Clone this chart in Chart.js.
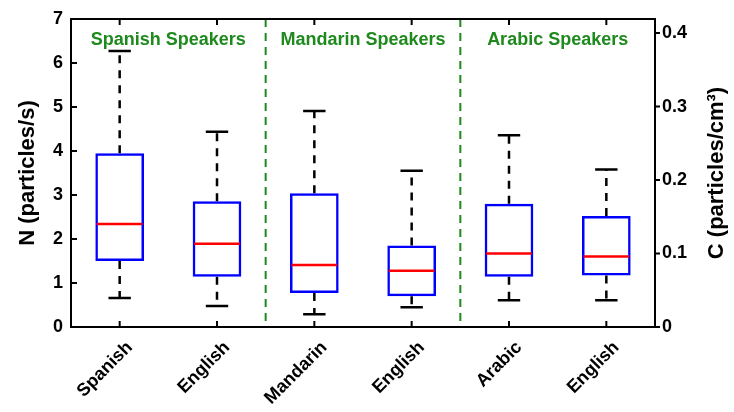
<!DOCTYPE html>
<html>
<head>
<meta charset="utf-8">
<script src="https://cdn.jsdelivr.net/npm/chart.js@4"></script>
<style>
  html, body { margin: 0; padding: 0; background: #fff; }
  #wrap { width: 734px; height: 412px; position: relative; }
</style>
</head>
<body>
<div id="wrap"><canvas id="chart"></canvas></div>
<script>
// box plot values, N (particles/s)
const categories = ["Spanish", "English", "Mandarin", "English", "Arabic", "English"];
const whiskerLow = [0.66, 0.48, 0.29, 0.45, 0.61, 0.61];
const q1 = [1.50, 1.14, 0.77, 0.70, 1.14, 1.17];
const medians = [2.34, 1.89, 1.41, 1.28, 1.67, 1.60];
const q3 = [3.95, 2.86, 3.04, 1.85, 2.80, 2.52];
const whiskerHigh = [6.27, 4.44, 4.91, 3.55, 4.36, 3.58];

const groupLabels = ["Spanish Speakers", "Mandarin Speakers", "Arabic Speakers"];
const leftTicks = [0, 1, 2, 3, 4, 5, 6, 7];
const rightTicks = [0, 0.1, 0.2, 0.3, 0.4];
const nPerC = 16.7; // 1 particle/cm3 <-> N scale

const FONT = "'Liberation Sans', Arial, sans-serif";
const GREEN = "#1e8a1e";

// whiskers, medians, frame, ticks, group labels
const boxExtras = {
  id: "boxExtras",
  afterDatasetsDraw(chart) {
    const { ctx, chartArea: a, scales } = chart;
    const x = scales.x, y = scales.y, y2 = scales.y2;
    const meta = chart.getDatasetMeta(0);

    ctx.save();
    // group dividers
    ctx.strokeStyle = GREEN;
    ctx.lineWidth = 2;
    ctx.setLineDash([8, 6]);
    for (let i = 1; i < groupLabels.length; i++) {
      const px = (x.getPixelForValue(2 * i - 1) + x.getPixelForValue(2 * i)) / 2;
      ctx.beginPath();
      ctx.moveTo(px, a.top);
      ctx.lineTo(px, a.bottom);
      ctx.stroke();
    }

    // whiskers
    categories.forEach((c, i) => {
      const cx = x.getPixelForValue(i);
      const half = meta.data[i].width * 0.23;
      ctx.strokeStyle = "#000";
      ctx.lineWidth = 2.5;
      ctx.setLineDash([8, 7]);
      ctx.beginPath();
      ctx.moveTo(cx, y.getPixelForValue(q3[i]));
      ctx.lineTo(cx, y.getPixelForValue(whiskerHigh[i]));
      ctx.moveTo(cx, y.getPixelForValue(q1[i]));
      ctx.lineTo(cx, y.getPixelForValue(whiskerLow[i]));
      ctx.stroke();
      ctx.setLineDash([]);
      ctx.beginPath();
      ctx.moveTo(cx - half, y.getPixelForValue(whiskerHigh[i]));
      ctx.lineTo(cx + half, y.getPixelForValue(whiskerHigh[i]));
      ctx.moveTo(cx - half, y.getPixelForValue(whiskerLow[i]));
      ctx.lineTo(cx + half, y.getPixelForValue(whiskerLow[i]));
      ctx.stroke();

      // median
      const bw = meta.data[i].width / 2;
      ctx.strokeStyle = "#ff0000";
      ctx.lineWidth = 2.5;
      ctx.beginPath();
      ctx.moveTo(cx - bw + 1.5, y.getPixelForValue(medians[i]));
      ctx.lineTo(cx + bw - 1.5, y.getPixelForValue(medians[i]));
      ctx.stroke();
    });

    // frame and tick marks
    ctx.setLineDash([]);
    ctx.strokeStyle = "#000";
    ctx.lineWidth = 2;
    ctx.strokeRect(a.left, a.top, a.right - a.left, a.bottom - a.top);
    ctx.beginPath();
    leftTicks.forEach(v => {
      const py = y.getPixelForValue(v);
      ctx.moveTo(a.left, py);
      ctx.lineTo(a.left + 6, py);
    });
    rightTicks.forEach(v => {
      const py = y2.getPixelForValue(v);
      ctx.moveTo(a.right, py);
      ctx.lineTo(a.right + 5, py);
    });
    categories.forEach((c, i) => {
      const px = x.getPixelForValue(i);
      ctx.moveTo(px, a.bottom);
      ctx.lineTo(px, a.bottom - 6);
      ctx.moveTo(px, a.top);
      ctx.lineTo(px, a.top + 6);
    });
    ctx.stroke();

    // group labels
    ctx.fillStyle = GREEN;
    ctx.font = "bold 18px " + FONT;
    ctx.textAlign = "center";
    ctx.textBaseline = "middle";
    groupLabels.forEach((g, i) => {
      const px = (x.getPixelForValue(2 * i) + x.getPixelForValue(2 * i + 1)) / 2;
      ctx.fillText(g, px, a.top + 21);
    });

    // right axis title, reads bottom to top like the left one
    ctx.fillStyle = "#000";
    ctx.font = "bold 22px " + FONT;
    ctx.translate(717, (a.top + a.bottom) / 2);
    ctx.rotate(-Math.PI / 2);
    ctx.fillText("C (particles/cm³)", 0, 0);
    ctx.restore();
  }
};

new Chart(document.getElementById("chart"), {
  type: "bar",
  data: {
    labels: categories,
    datasets: [{
      data: q1.map((v, i) => [v, q3[i]]),
      backgroundColor: "rgba(0,0,0,0)",
      borderColor: "#0000ff",
      borderWidth: 2.5,
      borderSkipped: false,
      barPercentage: 0.5,
      categoryPercentage: 1,
      yAxisID: "y"
    }]
  },
  options: {
    responsive: true,
    maintainAspectRatio: false,
    animation: false,
    layout: { padding: { top: 19, left: 0, right: 0, bottom: 0 } },
    plugins: { legend: { display: false }, tooltip: { enabled: false } },
    scales: {
      x: {
        grid: { display: false, drawTicks: false },
        border: { display: false },
        afterFit: s => { s.height = 85; },
        ticks: {
          color: "#000",
          font: { family: FONT, size: 18, weight: "bold" },
          minRotation: 45,
          maxRotation: 45,
          labelOffset: 10,
          padding: 10
        }
      },
      y: {
        position: "left",
        min: 0,
        max: 7,
        grid: { display: false, drawTicks: false },
        border: { display: false },
        afterFit: s => { s.width = 71; },
        afterBuildTicks: s => { s.ticks = leftTicks.map(v => ({ value: v })); },
        ticks: {
          color: "#000",
          font: { family: FONT, size: 18, weight: "bold" },
          padding: 8
        },
        title: {
          display: true,
          text: "N (particles/s)",
          color: "#000",
          font: { family: FONT, size: 22, weight: "bold" },
          padding: { top: 15 }
        }
      },
      y2: {
        position: "right",
        min: 0,
        max: 7 / nPerC,
        grid: { display: false, drawTicks: false },
        border: { display: false },
        afterFit: s => { s.width = 79; },
        afterBuildTicks: s => { s.ticks = rightTicks.map(v => ({ value: v })); },
        ticks: {
          color: "#000",
          font: { family: FONT, size: 18, weight: "bold" },
          padding: 7,
          callback: v => (v === 0 ? "0" : v.toFixed(1))
        }
      }
    }
  },
  plugins: [boxExtras]
});
</script>
</body>
</html>
